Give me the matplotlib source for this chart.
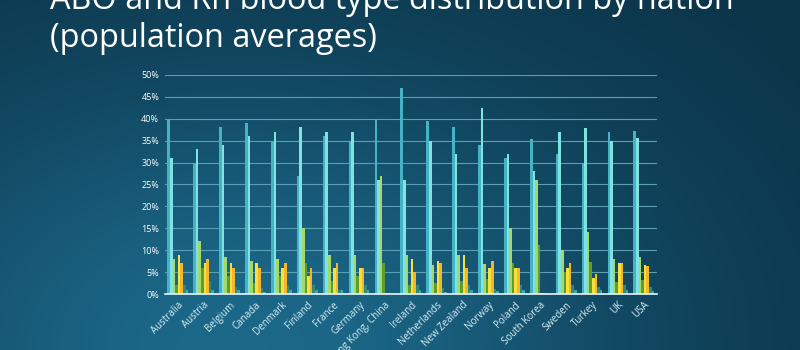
import numpy as np
import matplotlib.pyplot as plt
from matplotlib.colors import LinearSegmentedColormap

plt.rcParams['font.family'] = ['Open Sans', 'DejaVu Sans']

countries = ["Australia", "Austria", "Belgium", "Canada", "Denmark", "Finland",
             "France", "Germany", "Hong Kong, China", "Ireland", "Netherlands",
             "New Zealand", "Norway", "Poland", "South Korea", "Sweden", "Turkey",
             "UK", "USA"]

# percentages
o_pos = [40, 30, 38, 39, 35, 27, 36, 35, 40, 47, 39.5, 38, 34, 31, 35.3, 32, 29.8, 37, 37.2]
a_pos = [31, 33, 34, 36, 37, 38, 37, 37, 26, 26, 35, 32, 42.5, 32, 28, 37, 37.8, 35, 35.6]
b_pos = [8, 12, 8.5, 7.6, 8, 15, 9, 9, 27, 9, 6.7, 9, 6.8, 15, 26, 10, 14.2, 8, 8.5]
ab_pos = [2, 6, 4.1, 2.5, 4, 7, 3, 4, 7, 2, 2.5, 3, 3.4, 7, 11.2, 5, 7.2, 2.7, 3.2]
o_neg = [9, 7, 7, 7, 6, 4, 6, 6, 0.3, 8, 7.5, 9, 6, 6, 0.3, 6, 3.7, 7, 6.6]
a_neg = [7, 8, 6, 6, 7, 6, 7, 6, 0.2, 5, 7, 6, 7.5, 6, 0.2, 7, 4.6, 7, 6.3]
b_neg = [2, 3, 1.5, 1.4, 2, 2, 1, 2, 0.1, 2, 1.3, 2, 1.2, 2, 0.1, 2, 1.5, 2, 1.5]
ab_neg = [1, 1, 0.8, 0.5, 1, 1, 1, 1, 0.05, 1, 0.5, 1, 0.6, 1, 0.05, 1, 0.8, 1, 0.6]

series = [o_pos, a_pos, b_pos, ab_pos, o_neg, a_neg, b_neg, ab_neg]
colors = ["#45b3c4", "#80e2e2", "#a4d86a", "#5e9c30", "#f6e03c", "#f4b62c",
          "#2f8a7c", "#3aaab2"]

fig = plt.figure(figsize=(8, 3.5), dpi=100)

# slide background: lighter glow at lower left, darker towards the top right
bg = fig.add_axes([0, 0, 1, 1], zorder=-10)
yy, xx = np.mgrid[0:1:200j, 0:1:400j]
grad = np.exp(-((xx - 0.3) ** 2 / 0.35 + yy ** 2 / 0.9))
cmap = LinearSegmentedColormap.from_list("bg", ["#0b3448", "#124a64", "#1c6889"])
bg.imshow(grad, cmap=cmap, aspect="auto", extent=[0, 1, 0, 1], origin="lower")
bg.axis("off")

fig.text(0.062, 0.974, "ABO and Rh blood type distribution by nation",
         color="white", fontsize=23.4, va="baseline", ha="left")
fig.text(0.062, 0.866, "(population averages)",
         color="white", fontsize=23.4, va="baseline", ha="left")

ax = fig.add_axes([0.206, 0.16, 0.615, 0.626])
ax.patch.set_alpha(0)

x = np.arange(len(countries))
w = 0.1
for i, (vals, c) in enumerate(zip(series, colors)):
    ax.bar(x + (i - 3.5) * w, vals, width=w, color=c, zorder=3)

ax.set_xlim(-0.5, len(countries) - 0.5)
ax.set_ylim(0, 50)
ax.set_yticks(range(0, 51, 5))
ax.set_yticklabels([f"{v}%" for v in range(0, 51, 5)], color="white", fontsize=6.5)
ax.set_xticks(x)
ax.set_xticklabels(countries, rotation=45, ha="right", rotation_mode="anchor",
                   color="#d8eef4", fontsize=7)
ax.tick_params(length=0, pad=4)
ax.grid(axis="y", color="#5c9fb4", linewidth=0.8, zorder=0)
for s in ["top", "right", "left"]:
    ax.spines[s].set_visible(False)
ax.spines["bottom"].set_color("#e8f6fa")
ax.spines["bottom"].set_linewidth(1.2)
ax.spines["bottom"].set_zorder(4)

fig.savefig("out.png", dpi=100)
